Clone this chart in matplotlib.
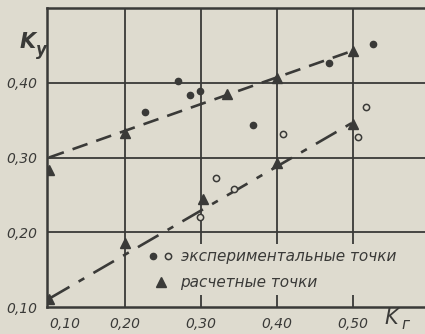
import matplotlib
matplotlib.use('Agg')
import matplotlib.pyplot as plt
from matplotlib.legend_handler import HandlerTuple
from matplotlib.lines import Line2D

# data
exp_filled_x = [0.226, 0.270, 0.286, 0.299, 0.368, 0.468, 0.526]
exp_filled_y = [0.361, 0.403, 0.384, 0.389, 0.343, 0.427, 0.452]

exp_open_x = [0.299, 0.320, 0.343, 0.408, 0.507, 0.517]
exp_open_y = [0.221, 0.272, 0.258, 0.331, 0.327, 0.367]

calc_upper_x = [0.20, 0.335, 0.40, 0.50]
calc_upper_y = [0.333, 0.385, 0.407, 0.443]

calc_lower_x = [0.10, 0.10, 0.20, 0.303, 0.40, 0.50]
calc_lower_y = [0.283, 0.111, 0.186, 0.245, 0.293, 0.345]

upper_line_x = [0.10, 0.50]
upper_line_y = [0.300, 0.443]
lower_line_x = [0.10, 0.50]
lower_line_y = [0.111, 0.347]

x_ticks = [0.10, 0.20, 0.30, 0.40, 0.50]
x_labels = ['0,10', '0,20', '0,30', '0,40', '0,50']
y_ticks = [0.10, 0.20, 0.30, 0.40]
y_labels = ['0,10', '0,20', '0,30', '0,40']

legend_labels = ['экспериментальные точки', 'расчетные точки']

bg = '#dedbcf'
ink = '#3a3a38'

plt.rcParams['font.family'] = ['DejaVu Sans']

fig = plt.figure(figsize=(4.25, 3.34), dpi=100, facecolor=bg)
ax = fig.add_axes([0.1106, 0.0808, 0.8894, 0.895], facecolor=bg)

ax.set_xlim(0.0975, 0.595)
ax.set_ylim(0.10, 0.50)

# grid
for xv in x_ticks[1:]:
    ax.axvline(xv, color=ink, lw=1.3, zorder=1)
for yv in y_ticks[1:]:
    ax.axhline(yv, color=ink, lw=1.3, zorder=1)

for side in ['left', 'top', 'bottom']:
    ax.spines[side].set_color(ink)
    ax.spines[side].set_linewidth(1.8)
ax.spines['right'].set_visible(False)

# fitted lines
ax.plot(upper_line_x, upper_line_y, color=ink, lw=1.9, dashes=(6, 3.5), zorder=2)
ax.plot(lower_line_x, lower_line_y, color=ink, lw=1.9, dashes=(9, 4, 2.5, 4), zorder=2)

# points
ax.plot(exp_filled_x, exp_filled_y, 'o', color=ink, ms=4.5, zorder=3)
ax.plot(exp_open_x, exp_open_y, 'o', mfc=bg, mec=ink, mew=1.1, ms=4.5, zorder=3)
ax.plot(calc_upper_x, calc_upper_y, '^', color=ink, ms=7, zorder=3)
ax.plot(calc_lower_x, calc_lower_y, '^', color=ink, ms=7, zorder=3)

ax.set_xticks(x_ticks)
ax.set_xticklabels(x_labels, fontsize=10, style='italic', color=ink)
ax.set_yticks(y_ticks)
ax.set_yticklabels(y_labels, fontsize=10, style='italic', color=ink)
ax.tick_params(length=0, pad=7)
ax.get_xticklabels()[0].set_ha('left')

# axis names
fig.text(0.045, 0.855, 'K', fontsize=15, style='italic', fontweight='bold', color=ink)
fig.text(0.085, 0.835, 'у', fontsize=12, style='italic', fontweight='bold', color=ink)
fig.text(0.905, 0.03, 'K', fontsize=15, style='italic', color=ink)
fig.text(0.945, 0.014, 'г', fontsize=11, style='italic', color=ink)

# legend
h_filled = Line2D([], [], marker='o', ls='none', color=ink, ms=4.5)
h_open = Line2D([], [], marker='o', ls='none', mfc=bg, mec=ink, mew=1.1, ms=4.5)
h_tri = Line2D([], [], marker='^', ls='none', color=ink, ms=7)
leg = ax.legend([(h_filled, h_open), h_tri], legend_labels,
                handler_map={tuple: HandlerTuple(ndivide=None, pad=0.5)},
                loc='upper left', bbox_to_anchor=(0.24, 0.235),
                fontsize=11, frameon=True, facecolor=bg, edgecolor='none',
                framealpha=1, handlelength=1.4, handletextpad=0.6,
                labelspacing=0.75, borderpad=0.3)
for t in leg.get_texts():
    t.set_style('italic')
    t.set_color(ink)

fig.savefig('out.png', dpi=100, facecolor=bg)
